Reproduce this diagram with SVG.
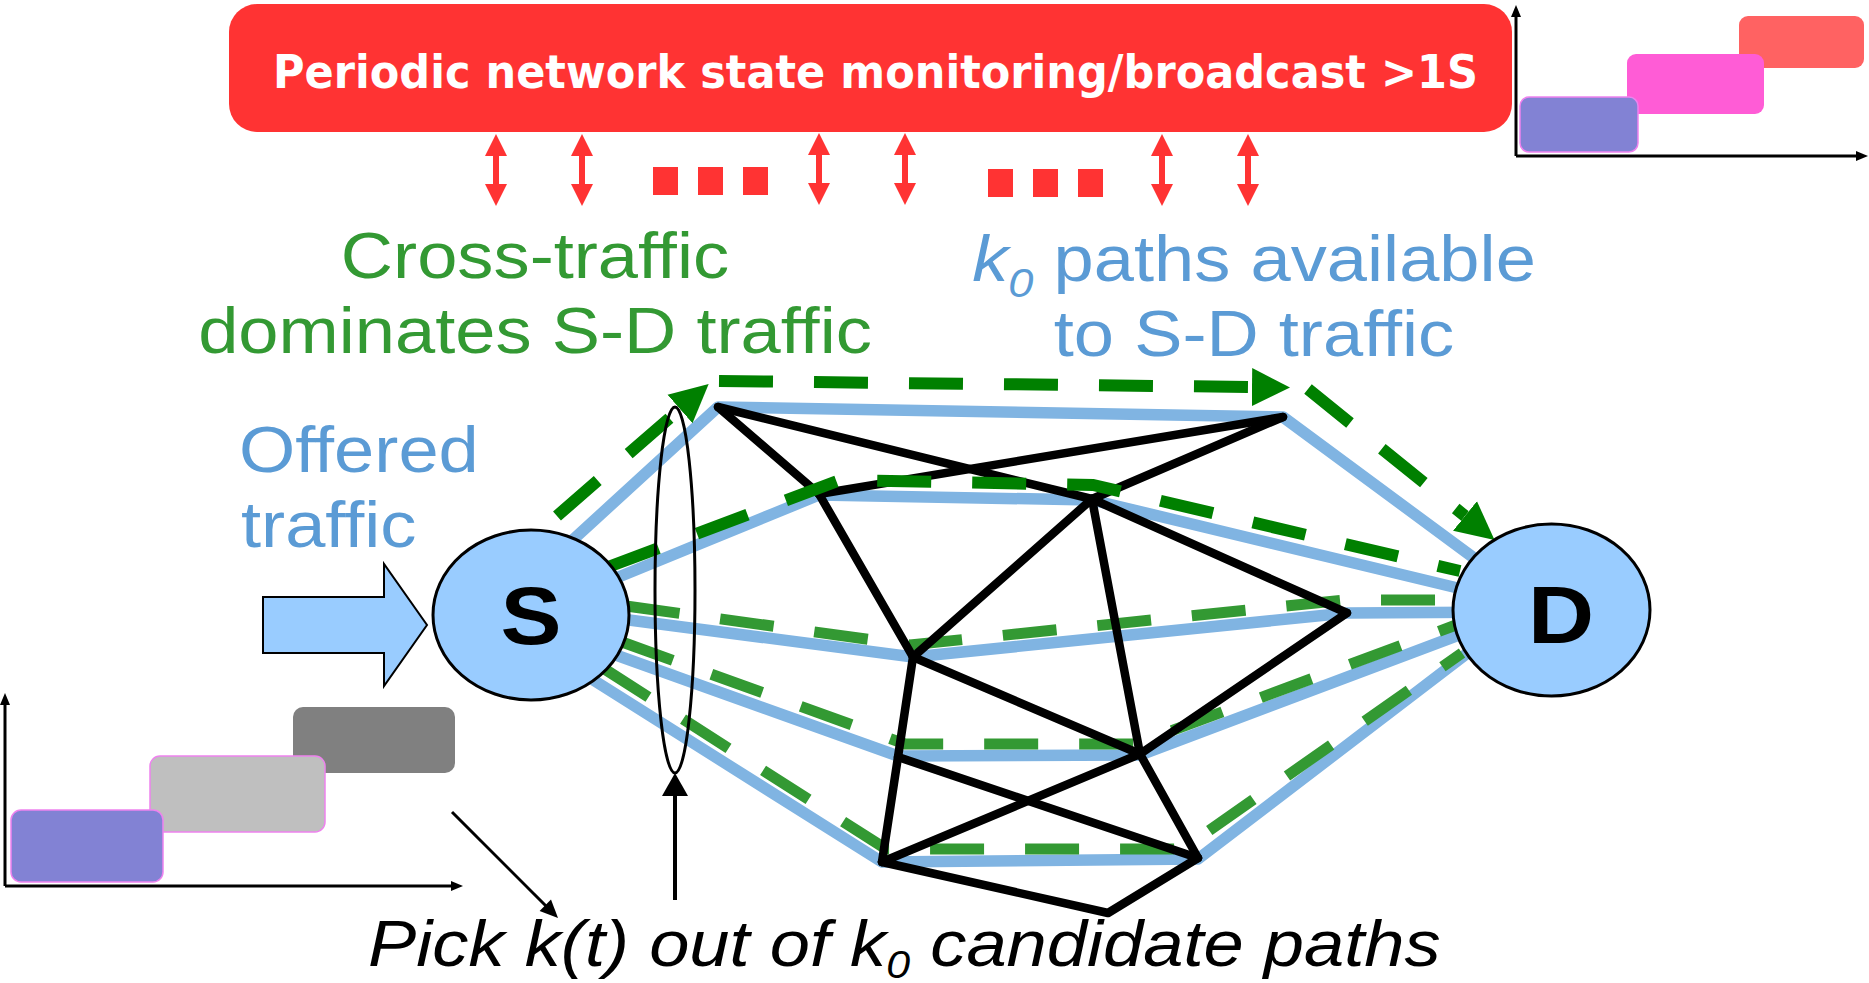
<svg xmlns="http://www.w3.org/2000/svg" width="1869" height="983" viewBox="0 0 1869 983">
  <style>
    .sans { font-family: "Liberation Sans", Arial, sans-serif; font-size: 64px; }
    .green-txt { fill: #339933; }
    .blue-txt { fill: #5b9bd5; }
    .blue-path { fill: none; stroke: #80b4e2; stroke-width: 11.5; stroke-linejoin: round; }
    .net { fill: none; stroke: #000; stroke-width: 8.5; stroke-linecap: round; stroke-linejoin: round; }
    .dash-dark { fill: none; stroke: #008000; stroke-width: 12; stroke-dasharray: 54 41; }
    .dash-light { fill: none; stroke: #339933; stroke-width: 11; stroke-dasharray: 54 41; }
    .node { fill: #99ccff; stroke: #000; stroke-width: 3; }
    .node-lbl { font-family: "Liberation Sans", Arial, sans-serif; font-weight: bold; font-size: 81px; fill: #000; }
    .axis { fill: none; stroke: #000; stroke-width: 3; }
    .bar { stroke: #ee82ee; stroke-width: 1.5; }
    .red-arrow { fill: #ff3333; }
  </style>
  <defs>
    <marker id="greenHead" markerUnits="userSpaceOnUse" markerWidth="40" markerHeight="40" viewBox="0 -20 40 40" refX="0" refY="0" orient="auto">
      <polygon points="0,-19 38,0 0,19" fill="#008000"/>
    </marker>
    <marker id="axisHead" markerUnits="userSpaceOnUse" markerWidth="14" markerHeight="14" viewBox="0 -7 14 14" refX="0" refY="0" orient="auto">
      <polygon points="0,-5 12,0 0,5" fill="#000"/>
    </marker>
    <symbol id="updown" viewBox="-11 0 22 72" width="22" height="72" overflow="visible">
      <polygon points="0,0 11,22 3,22 3,50 11,50 0,72 -11,50 -3,50 -3,22 -11,22"/>
    </symbol>
  </defs>

  <!-- monitoring banner -->
  <g id="banner">
    <rect x="229" y="4" width="1283" height="128" rx="28" ry="28" fill="#ff3333"/>
    <text x="273" y="88" font-family="'DejaVu Sans', Verdana, sans-serif" font-weight="bold" font-size="47" fill="#fff" textLength="1205" lengthAdjust="spacingAndGlyphs">Periodic network state monitoring/broadcast &gt;1S</text>
  </g>

  <!-- up/down exchange arrows with ellipsis blocks -->
  <g id="exchange" class="red-arrow">
    <use href="#updown" x="485" y="134"/>
    <use href="#updown" x="571" y="134"/>
    <use href="#updown" x="808" y="133"/>
    <use href="#updown" x="894" y="133"/>
    <use href="#updown" x="1151" y="134"/>
    <use href="#updown" x="1237" y="134"/>
    <rect x="653" y="167" width="25" height="28"/>
    <rect x="698" y="167" width="25" height="28"/>
    <rect x="743" y="167" width="25" height="28"/>
    <rect x="988" y="169" width="25" height="28"/>
    <rect x="1033" y="169" width="25" height="28"/>
    <rect x="1078" y="169" width="25" height="28"/>
  </g>

  <!-- schedule chart, top right -->
  <g id="chart-top">
    <rect x="1739" y="16" width="125" height="52" rx="9" fill="#ff6262"/>
    <rect x="1627" y="54" width="137" height="60" rx="9" fill="#ff5cd6"/>
    <rect class="bar" x="1520" y="97" width="118" height="55" rx="9" fill="#8282d4"/>
    <path class="axis" d="M1516,156 V17" marker-end="url(#axisHead)"/>
    <path class="axis" d="M1516,156 H1856" marker-end="url(#axisHead)"/>
  </g>

  <!-- schedule chart, bottom left -->
  <g id="chart-bottom">
    <rect x="293" y="707" width="162" height="66" rx="10" fill="#808080"/>
    <rect class="bar" x="150" y="756" width="175" height="76" rx="10" fill="#bfbfbf"/>
    <rect class="bar" x="11" y="810" width="152" height="72" rx="10" fill="#8282d4"/>
    <path class="axis" d="M5,886 V705" marker-end="url(#axisHead)"/>
    <path class="axis" d="M5,886 H451" marker-end="url(#axisHead)"/>
  </g>

  <!-- labels -->
  <g id="label-cross" class="sans green-txt" text-anchor="middle">
    <text transform="matrix(1.13 0 0 1 535 278)">Cross-traffic</text>
    <text transform="matrix(1.13 0 0 1 535 353)">dominates S-D traffic</text>
  </g>
  <g id="label-paths" class="sans blue-txt" text-anchor="middle">
    <text transform="matrix(1.13 0 0 1 1254 281)"><tspan font-style="italic">k</tspan><tspan font-style="italic" font-size="40" dy="16">0</tspan><tspan dy="-16"> paths available</tspan></text>
    <text transform="matrix(1.13 0 0 1 1254 356)">to S-D traffic</text>
  </g>
  <g id="label-offered" class="sans blue-txt">
    <text transform="matrix(1.13 0 0 1 239 472)">Offered</text>
    <text transform="matrix(1.13 0 0 1 241 547)">traffic</text>
  </g>
  <g id="label-pick" class="sans" font-style="italic" fill="#000">
    <text transform="matrix(1.13 0 0 1 368 966)">Pick k(t) out of k<tspan font-size="38" dy="12">0</tspan><tspan dy="-12"> candidate paths</tspan></text>
  </g>

  <!-- offered traffic block arrow -->
  <g id="offered-arrow">
    <polygon points="263,597 384,597 384,564 427,625 384,686 384,653 263,653" fill="#99ccff" stroke="#000" stroke-width="2"/>
  </g>

  <g id="connectors">
    <!-- candidate paths -->
    <g id="candidate-paths">
      <polyline class="blue-path" points="529,580 718,407 1283,417 1520,592"/>
      <polyline class="blue-path" points="560,601 819,495 1092,500 1520,603"/>
      <polyline class="blue-path" points="560,611 913,657 1347,613 1520,612"/>
      <polyline class="blue-path" points="560,635 898,756 1140,755 1520,612"/>
      <polyline class="blue-path" points="560,659 882,862 1198,859 1520,613"/>
    </g>
    <!-- cross traffic on lower paths -->
    <g id="cross-light">
      <polyline class="dash-light" points="626,606 910,645 1345,600 1455,600"/>
      <polyline class="dash-light" points="622,642 905,744 1136,744 1456,625"/>
      <polyline class="dash-light" points="603,668 886,849 1183,849 1462,653"/>
    </g>
    <!-- network links -->
    <g id="links" class="net">
      <line x1="718" y1="407" x2="819" y2="494"/>
      <line x1="718" y1="407" x2="1092" y2="499"/>
      <line x1="819" y1="494" x2="1283" y2="417"/>
      <line x1="1092" y1="499" x2="1283" y2="417"/>
      <line x1="819" y1="494" x2="913" y2="657"/>
      <line x1="1092" y1="499" x2="913" y2="657"/>
      <line x1="1092" y1="499" x2="1347" y2="613"/>
      <line x1="1092" y1="499" x2="1140" y2="754"/>
      <polyline points="913,657 898,757 882,862"/>
      <line x1="913" y1="657" x2="1140" y2="754"/>
      <line x1="1347" y1="613" x2="1140" y2="754"/>
      <line x1="1140" y1="754" x2="882" y2="862"/>
      <line x1="898" y1="757" x2="1198" y2="858"/>
      <line x1="1140" y1="754" x2="1198" y2="858"/>
      <polyline points="882,862 1108,913 1198,858"/>
    </g>
    <!-- cross traffic on upper paths -->
    <g id="cross-dark">
      <polyline class="dash-dark" points="608,567 840,480 1093,485 1460,571"/>
      <path class="dash-dark" d="M557,516 L680,409" marker-end="url(#greenHead)"/>
      <path class="dash-dark" d="M719,381 L1252,387" marker-end="url(#greenHead)"/>
      <path class="dash-dark" d="M1308,389 L1465,516" marker-end="url(#greenHead)"/>
    </g>
    <!-- path selection -->
    <g id="selection">
      <ellipse cx="675" cy="590" rx="20" ry="183" fill="none" stroke="#000" stroke-width="3"/>
      <line x1="675" y1="900" x2="675" y2="795" stroke="#000" stroke-width="4"/>
      <polygon points="662,796 688,796 675,773" fill="#000"/>
      <line x1="452" y1="812" x2="546" y2="906" stroke="#000" stroke-width="3"/>
      <polygon points="558,918 551,899.6 539.6,911" fill="#000"/>
    </g>
  </g>

  <!-- endpoints -->
  <g id="node-S">
    <ellipse class="node" cx="531" cy="615" rx="98" ry="85"/>
    <text class="node-lbl" text-anchor="middle" transform="matrix(1.13 0 0 1 531 644)">S</text>
  </g>
  <g id="node-D">
    <ellipse class="node" cx="1551.5" cy="610" rx="98.5" ry="86"/>
    <text class="node-lbl" text-anchor="middle" transform="matrix(1.13 0 0 1 1561 643)">D</text>
  </g>
</svg>
